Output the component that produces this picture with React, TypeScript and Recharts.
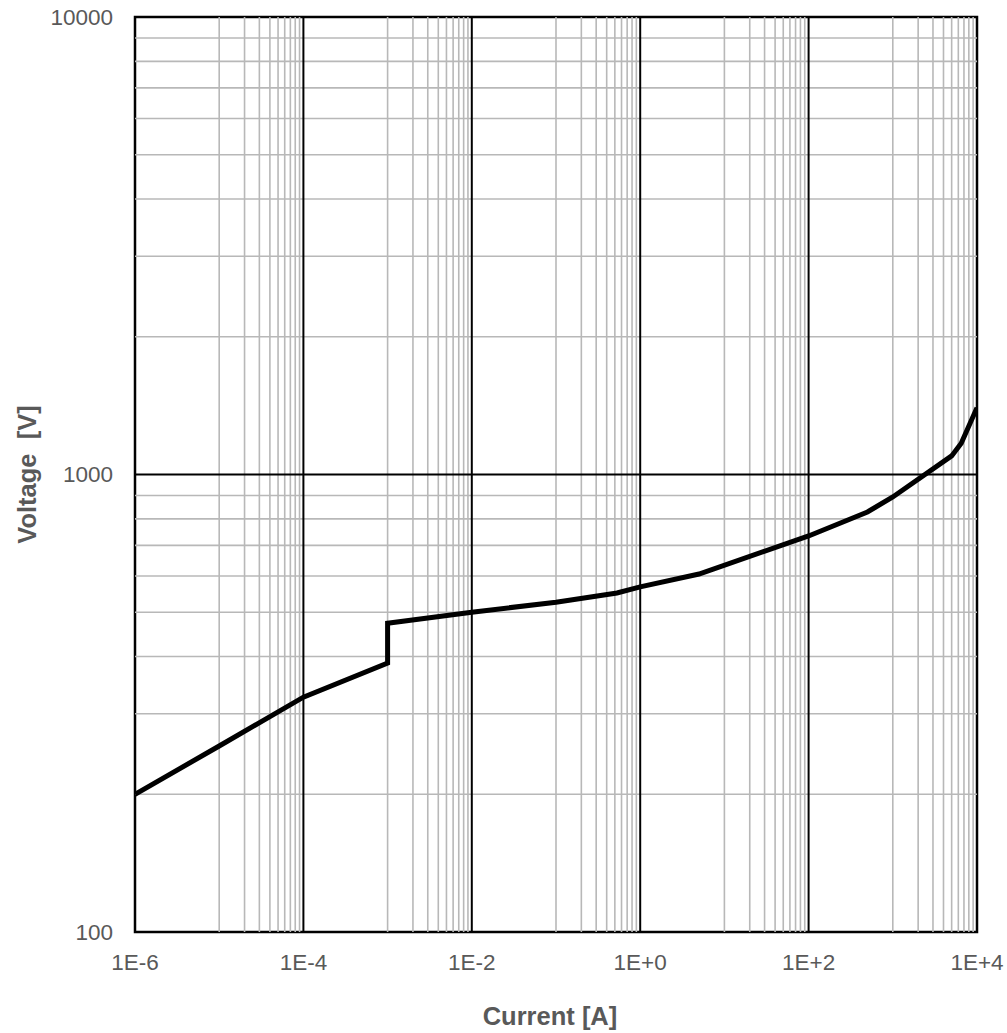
import React from "react";
import {
  LineChart, Line, XAxis, YAxis, ReferenceLine, ReferenceArea,
} from "recharts";

// current [A] and voltage [V]
const current = [1e-6, 1e-5, 1e-4, 1e-3, 1e-3, 1e-2, 1e-1, 0.53, 1, 5, 100, 500, 1000, 5000, 6500, 1e4];
const voltage = [200, 255, 326, 387, 473, 500, 526, 551, 568, 606, 734, 828, 893, 1098, 1170, 1400];

const xTicks = [1e-6, 1e-4, 1e-2, 1, 1e2, 1e4];
const yTicks = [100, 1000, 10000];
const xMajor = [1e-4, 1e-2, 1, 1e2];
const yMajor = [1000];
const xBases = [1e-6, 1e-4, 1e-2, 1, 1e2];
const yBases = [100, 1000];
const steps = [1, 2, 3, 4, 5, 6, 7, 8, 9];

const data = current.map((c, i) => ({ current: c, voltage: voltage[i] }));

// base-100 minor grid on x (1E-5..9E-5 etc), base-10 minor grid on y
const xMinor = xBases.flatMap((b) => steps.map((k) => b * 10 * k)).filter((v) => !xMajor.includes(v));
const yMinor = yBases.flatMap((b) => steps.slice(1).map((k) => b * k));

const TEXT = "#595959";
const FONT = "'Liberation Sans', Arial, sans-serif";

function fmtExp(v: number) {
  const e = Math.round(Math.log10(v));
  return `1E${e < 0 ? "-" : "+"}${Math.abs(e)}`;
}

function VoltageLabel(props: any) {
  const vb = props.viewBox || {};
  const cx = (vb.x ?? 0) + 27;
  const cy = (vb.y ?? 0) + (vb.height ?? 0) / 2;
  return (
    <text
      x={cx}
      y={cy}
      transform={`rotate(-90 ${cx} ${cy})`}
      textAnchor="middle"
      dominantBaseline="central"
      fill={TEXT}
      fontWeight="bold"
      fontSize={25.5}
      fontFamily={FONT}
      style={{ whiteSpace: "pre" }}
    >
      {"Voltage  [V]"}
    </text>
  );
}

export default function App() {
  return (
    <div style={{ position: "absolute", left: 0, top: 0, background: "#fff" }}>
      <LineChart
        width={1007}
        height={1033}
        data={data}
        margin={{ top: 17, right: 30, left: 0, bottom: 0 }}
        style={{ fontFamily: FONT }}
      >
        <XAxis
          dataKey="current"
          type="number"
          scale="log"
          domain={[1e-6, 1e4]}
          ticks={xTicks}
          interval={0}
          allowDataOverflow
          tickFormatter={fmtExp}
          tickLine={false}
          axisLine={false}
          tickMargin={16}
          height={101}
          tick={{ fill: TEXT, fontSize: 22.5, fontFamily: FONT }}
          label={{
            value: "Current [A]",
            position: "insideBottom",
            offset: 8,
            dx: -6,
            fill: TEXT,
            fontSize: 25.5,
            fontWeight: "bold",
            fontFamily: FONT,
          }}
        />
        <YAxis
          dataKey="voltage"
          type="number"
          scale="log"
          domain={[100, 10000]}
          ticks={yTicks}
          interval={0}
          allowDataOverflow
          tickLine={false}
          axisLine={false}
          tickMargin={16}
          width={135}
          tick={{ fill: TEXT, fontSize: 22.5, fontFamily: FONT }}
          label={<VoltageLabel />}
        />
        {xMinor.map((v) => (
          <ReferenceLine key={`xm${v}`} x={v} stroke="#b8b8b8" strokeWidth={1.6} />
        ))}
        {yMinor.map((v) => (
          <ReferenceLine key={`ym${v}`} y={v} stroke="#b8b8b8" strokeWidth={1.6} />
        ))}
        {xMajor.map((v) => (
          <ReferenceLine key={`xM${v}`} x={v} stroke="#000" strokeWidth={2} />
        ))}
        {yMajor.map((v) => (
          <ReferenceLine key={`yM${v}`} y={v} stroke="#000" strokeWidth={2} />
        ))}
        <ReferenceArea
          x1={1e-6}
          x2={1e4}
          y1={100}
          y2={10000}
          fill="none"
          fillOpacity={0}
          stroke="#000"
          strokeWidth={2.5}
          strokeOpacity={1}
        />
        <Line
          dataKey="voltage"
          type="linear"
          stroke="#000"
          strokeWidth={5}
          dot={false}
          activeDot={false}
          isAnimationActive={false}
          strokeLinejoin="miter"
        />
      </LineChart>
    </div>
  );
}
